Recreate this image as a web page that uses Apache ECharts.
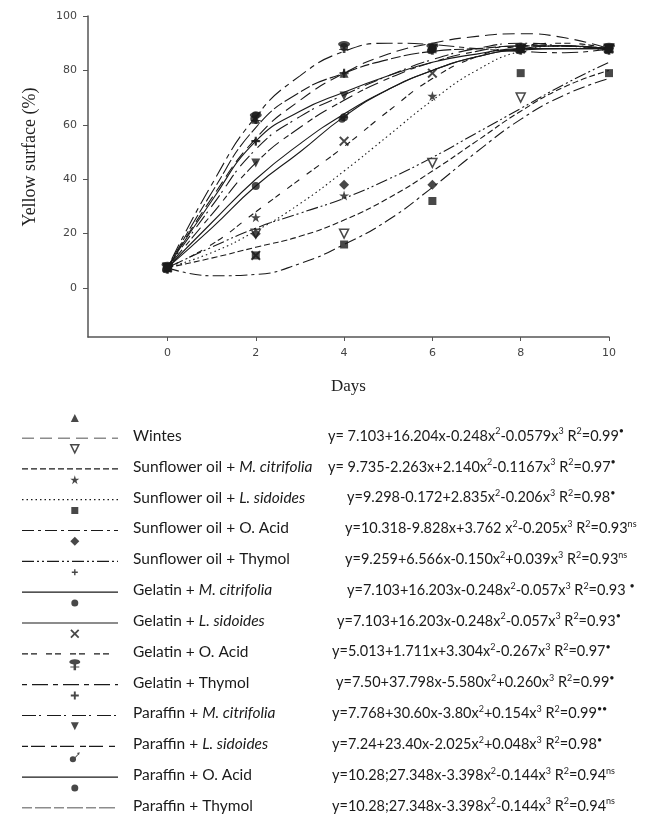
<!DOCTYPE html>
<html>
<head>
<meta charset="utf-8">
<script src="https://cdn.jsdelivr.net/npm/echarts@6/dist/echarts.min.js"></script>
<style>
  html, body { margin: 0; padding: 0; background: #fff; }
  #chart { width: 658px; height: 828px; }
</style>
</head>
<body>
<div id="chart"></div>
<script>
// ---- data ----
const days    = [0, 2, 4, 6, 8, 10];
const fitDays = [0, 1, 2, 3, 4, 5, 6, 7, 8, 9, 10];
const xTicks  = [0, 2, 4, 6, 8, 10];
const yTicks  = [0, 20, 40, 60, 80, 100];

const labels = [
  'Wintes',
  'Sunflower oil + {i|M. citrifolia}',
  'Sunflower oil + {i|L. sidoides}',
  'Sunflower oil + O. Acid',
  'Sunflower oil + Thymol',
  'Gelatin + {i|M. citrifolia}',
  'Gelatin + {i|L. sidoides}',
  'Gelatin + O. Acid',
  'Gelatin + Thymol',
  'Paraffin + {i|M. citrifolia}',
  'Paraffin + {i|L. sidoides}',
  'Paraffin + O. Acid',
  'Paraffin + Thymol'
]

const equations = [
  'y= 7.103+16.204x-0.248x{s|2}-0.0579x{s|3} R{s|2}=0.99{s|•}',
  'y= 9.735-2.263x+2.140x{s|2}-0.1167x{s|3} R{s|2}=0.97{s|•}',
  'y=9.298-0.172+2.835x{s|2}-0.206x{s|3} R{s|2}=0.98{s|•}',
  'y=10.318-9.828x+3.762 x{s|2}-0.205x{s|3} R{s|2}=0.93{s|ns}',
  'y=9.259+6.566x-0.150x{s|2}+0.039x{s|3} R{s|2}=0.93{s|ns}',
  'y=7.103+16.203x-0.248x{s|2}-0.057x{s|3} R{s|2}=0.93 {s|•}',
  'y=7.103+16.203x-0.248x{s|2}-0.057x{s|3} R{s|2}=0.93{s|•}',
  'y=5.013+1.711x+3.304x{s|2}-0.267x{s|3} R{s|2}=0.97{s|•}',
  'y=7.50+37.798x-5.580x{s|2}+0.260x{s|3} R{s|2}=0.99{s|•}',
  'y=7.768+30.60x-3.80x{s|2}+0.154x{s|3} R{s|2}=0.99{s|••}',
  'y=7.24+23.40x-2.025x{s|2}+0.048x{s|3} R{s|2}=0.98{s|•}',
  'y=10.28;27.348x-3.398x{s|2}-0.144x{s|3} R{s|2}=0.94{s|ns}',
  'y=10.28;27.348x-3.398x{s|2}-0.144x{s|3} R{s|2}=0.94{s|ns}'
]

// observed yellow surface (%) at days 0,2,...,10
const wintesObs = [7.5, 62, 79, 88, 88, 88]
const soMcObs   = [7.5, 20, 20, 46, 70, 88]
const soLsObs   = [7.5, 26, 34, 70.6, 88, 88]
const soOaObs   = [7.5, 12, 16, 32, 79, 79]
const soThyObs  = [7.5, 20, 38, 38, 88, 88]
const gelMcObs  = [7.5, 54, 62.8, 88, 88, 88]
const gelLsObs  = [7.5, 37.5, 62.8, 88, 88, 88]
const gelOaObs  = [7.5, 12, 54, 79, 88, 88]
const gelThyObs = [7.5, 62.5, 88.6, 88, 88, 88]
const parMcObs  = [7.5, 54, 79, 88, 88, 88]
const parLsObs  = [7.5, 46, 70.6, 88, 88, 88]
const parOaObs  = [7.5, 63, 62.8, 88, 88, 88]
const parThyObs = [7.5, 63.5, 88.6, 88, 88, 88]

// fitted curves at days 0..10
const wintesFit = [7.5, 33, 55, 69, 79, 86, 90, 92.5, 93.5, 92, 88]
const soMcFit   = [7.5, 11, 15, 19, 25, 33, 43, 54, 65, 74, 80]
const soLsFit   = [7.5, 13, 21, 31, 43, 56, 69, 80, 87, 89, 87]
const soOaFit   = [7.5, 4.5, 5, 9, 16, 25, 37, 50, 62, 71, 77]
const soThyFit  = [7.5, 15, 22, 27.5, 33, 40, 48, 57, 66, 75, 83]
const gelMcFit  = [7.5, 32, 54, 65, 72, 78, 83, 86, 88, 88, 88]
const gelLsFit  = [7.5, 22, 37.5, 50, 63, 73, 80, 85, 87.5, 88, 88]
const gelOaFit  = [7.5, 16, 28, 40, 52, 65, 77, 85, 89, 90, 88]
const gelThyFit = [7.5, 38, 63, 78, 87, 90, 89.5, 88, 87, 86.5, 88]
const parMcFit  = [7.5, 30, 51, 63, 71, 78, 84, 88, 90, 89, 88]
const parLsFit  = [7.5, 27, 46, 59, 69, 77, 83, 87, 89, 89, 88]
const parOaFit  = [7.5, 24, 40, 53, 64, 73, 80, 85, 88, 89, 88]
const parThyFit = [7.5, 35, 59, 72, 79, 84, 87, 88, 89, 89, 88]

// ---- styles ----
const INK = '#1a1a1a'
const SYM = {
  star:  'path://M50,0L61,35L98,35L68,57L79,91L50,70L21,91L32,57L2,35L39,35Z',
  plus:  'path://M38,0H62V38H100V62H62V100H38V62H0V38H38Z',
  cross: 'path://M14,0L50,36L86,0L100,14L64,50L100,86L86,100L50,64L14,100L0,86L36,50L0,14Z',
  pin:   'path://M50,2A22,22 0 1 1 49.9,2Z M45,44H55V60H68V68H55V90H45V68H32V60H45Z',
  arrow: 'path://M34,40A30,30 0 1 1 33.9,40Z M52,52L82,18L88,24L58,58Z M72,8L100,0L92,28Z'
}

const treatments = [
  { obs: wintesObs, fit: wintesFit, dash: [12, 6],             sym: 'triangle', size: 9 },
  { obs: soMcObs,   fit: soMcFit,   dash: [6, 3],              sym: 'triangle', size: 9, rot: 180, open: true },
  { obs: soLsObs,   fit: soLsFit,   dash: [1.5, 3],            sym: SYM.star,   size: 10 },
  { obs: soOaObs,   fit: soOaFit,   dash: [12, 4, 3, 4],       sym: 'rect',     size: 8 },
  { obs: soThyObs,  fit: soThyFit,  dash: [12, 3, 2, 3, 2, 3], sym: 'diamond',  size: 10 },
  { obs: gelMcObs,  fit: gelMcFit,  dash: 'solid',             sym: SYM.plus,   size: 7 },
  { obs: gelLsObs,  fit: gelLsFit,  dash: 'solid',             sym: 'circle',   size: 8 },
  { obs: gelOaObs,  fit: gelOaFit,  dash: [6, 3, 6, 9],        sym: SYM.cross,  size: 10 },
  { obs: gelThyObs, fit: gelThyFit, dash: [5, 5, 16, 5],       sym: SYM.pin,    size: 12 },
  { obs: parMcObs,  fit: parMcFit,  dash: [14, 3, 2, 6],       sym: SYM.plus,   size: 9 },
  { obs: parLsObs,  fit: parLsFit,  dash: [6, 3, 14, 6],       sym: 'triangle', size: 9, rot: 180 },
  { obs: parOaObs,  fit: parOaFit,  dash: 'solid',             sym: SYM.arrow,  size: 11 },
  { obs: parThyObs, fit: parThyFit, dash: [10, 3, 16, 3],      sym: 'circle',   size: 8 }
]

// legend layout
const rowTop = 436, rowGap = 30.83
const eqX = [328, 328, 347, 345, 345, 347, 337, 332, 336, 332, 332, 332, 332]

const series = []
treatments.forEach((t, i) => {
  const itemStyle = t.open
    ? { color: '#fff', borderColor: INK, borderWidth: 1.5 }
    : { color: INK }
  // fitted curve in plot
  series.push({
    type: 'line', xAxisIndex: 0, yAxisIndex: 0, smooth: true, symbol: 'none', z: 2,
    data: fitDays.map((d, k) => [d, t.fit[k]]),
    lineStyle: { color: INK, width: 1.1, type: t.dash }
  })
  // legend line sample
  series.push({
    type: 'line', xAxisIndex: 1, yAxisIndex: 1, symbol: 'none',
    data: [[0, i], [1, i]],
    lineStyle: { color: INK, width: 1.1, type: t.dash }
  })
  // observed points
  series.push({
    type: 'scatter', xAxisIndex: 0, yAxisIndex: 0, z: 3,
    symbol: t.sym, symbolSize: t.size, symbolRotate: t.rot || 0,
    data: days.map((d, k) => [d, t.obs[k]]),
    itemStyle
  })
  // legend marker
  series.push({
    type: 'scatter', xAxisIndex: 1, yAxisIndex: 1,
    symbol: t.sym, symbolSize: t.size - 1, symbolRotate: t.rot || 0, symbolOffset: [0, -20],
    data: [[0.55, i]],
    itemStyle
  })
})

const rich = {
  i: { fontStyle: 'italic', fontFamily: 'Lato', fontSize: 15.5, fill: '#1a1a1a' },
  s: { fontFamily: 'Lato', fontSize: 9, verticalAlign: 'top', lineHeight: 9, fill: '#1a1a1a' }
}
const graphic = []
labels.forEach((lab, i) => {
  const y = rowTop + i * rowGap
  graphic.push({ type: 'text', x: 133, y, style: {
    text: lab, fontFamily: 'Lato', fontSize: 15.5, fill: '#1a1a1a', verticalAlign: 'middle', lineHeight: 18, rich } })
  graphic.push({ type: 'text', x: eqX[i], y, style: {
    text: equations[i], fontFamily: 'Lato', fontSize: 14.5, fill: '#1a1a1a', verticalAlign: 'middle', lineHeight: 18, rich } })
})
graphic.push({ type: 'text', x: 30, y: 157, rotation: Math.PI / 2, style: {
  text: 'Yellow surface (%)', fontFamily: 'Liberation Serif', fontSize: 18, fill: '#222',
  align: 'center', verticalAlign: 'middle' } })

const axisLine = { show: true, onZero: false, lineStyle: { color: '#555', width: 1.5 } }
const axisLabel = { color: '#444', fontSize: 11, fontFamily: 'DejaVu Sans' }

const chart = echarts.init(document.getElementById('chart'), null, { renderer: 'canvas' })
chart.setOption({
  animation: false,
  backgroundColor: '#fff',
  grid: [
    { left: 88, top: 16, width: 521, height: 321 },
    { left: 22, top: 438, width: 96, height: 370 }
  ],
  xAxis: [
    { type: 'value', gridIndex: 0, min: -1.8, max: 10,
      axisLine, splitLine: { show: false },
      axisTick: { length: 4, lineStyle: { color: '#555' }, customValues: xTicks },
      axisLabel: { ...axisLabel, margin: 11, customValues: xTicks },
      name: 'Days', nameLocation: 'middle', nameGap: 41,
      nameTextStyle: { fontFamily: 'Liberation Serif', fontSize: 17, color: '#222' } },
    { type: 'value', gridIndex: 1, min: 0, max: 1, show: false }
  ],
  yAxis: [
    { type: 'value', gridIndex: 0, min: -18, max: 100,
      axisLine, splitLine: { show: false },
      axisTick: { show: true, length: 5, lineStyle: { color: '#555' }, customValues: yTicks },
      axisLabel: { ...axisLabel, margin: 11, customValues: yTicks } },
    { type: 'value', gridIndex: 1, min: 0, max: 12, inverse: true, show: false }
  ],
  graphic,
  series
})
</script>
</body>
</html>
